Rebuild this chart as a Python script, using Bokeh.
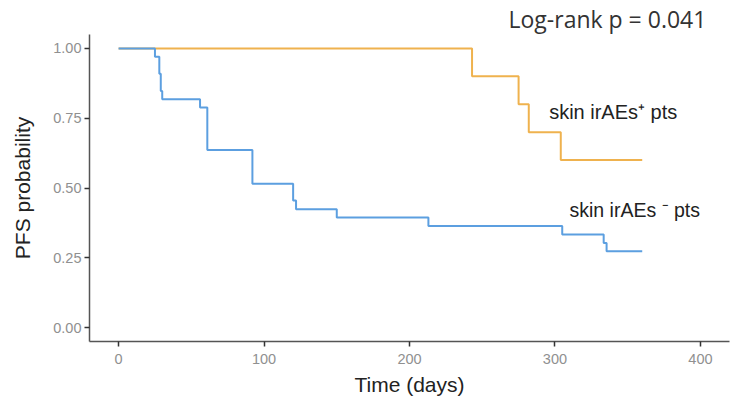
from bokeh.plotting import figure
from bokeh.models import Range1d, FixedTicker, Label, Title
from bokeh.embed import file_html
from bokeh.resources import INLINE

# Data
pos_time = [0, 243, 275, 282, 304, 360]
pos_surv = [1.0, 0.9, 0.8, 0.7, 0.6, 0.6]

neg_time = [0, 25, 28, 29, 30, 56, 61, 92, 120, 122, 150, 213, 305, 333.5, 335.5, 360]
neg_surv = [1.0, 0.970, 0.909, 0.848, 0.818, 0.788, 0.636, 0.515, 0.455, 0.424,
            0.394, 0.364, 0.333, 0.303, 0.273, 0.273]

x_ticks = [0, 100, 200, 300, 400]
y_ticks = [0.0, 0.25, 0.5, 0.75, 1.0]
y_tick_labels = ["0.00", "0.25", "0.50", "0.75", "1.00"]

pos_label = "skin irAEs\u207a pts"
neg_label = "skin irAEs \u207b pts"
p_text = "Log-rank p = 0.041"

orange = "#EFB24E"
blue = "#5C9FE0"

p = figure(width=745, height=400, output_backend="svg", toolbar_location=None,
           x_range=Range1d(-20, 420), y_range=Range1d(-0.05, 1.05),
           min_border_left=89, min_border_right=16, min_border_top=0, min_border_bottom=59)

p.step(pos_time, pos_surv, mode="after", line_color=orange, line_width=2)
p.step(neg_time, neg_surv, mode="after", line_color=blue, line_width=2)

p.grid.visible = False
p.outline_line_color = None
p.background_fill_color = "white"

for ax in (p.xaxis[0], p.yaxis[0]):
    ax.axis_line_color = "#555555"
    ax.axis_line_width = 1.5
    ax.major_tick_line_color = "#333333"
    ax.major_tick_line_width = 1.5
    ax.major_tick_out = 5
    ax.major_tick_in = 0
    ax.minor_tick_line_color = None
    ax.major_label_text_color = "#909090"
    ax.major_label_text_font = "Liberation Sans"
    ax.major_label_text_font_size = "14.5px"
    ax.axis_label_text_font = "Liberation Sans"
    ax.axis_label_text_font_size = "21px"
    ax.axis_label_text_font_style = "normal"
    ax.axis_label_text_color = "#222222"

p.xaxis[0].ticker = FixedTicker(ticks=x_ticks)
p.yaxis[0].ticker = FixedTicker(ticks=y_ticks)
p.yaxis[0].major_label_overrides = {t: l for t, l in zip(y_ticks, y_tick_labels)}
p.xaxis[0].axis_label = "Time (days)"
p.yaxis[0].axis_label = "PFS probability"
p.xaxis[0].major_label_standoff = 7
p.yaxis[0].major_label_standoff = 3
p.xaxis[0].axis_label_standoff = 6
p.yaxis[0].axis_label_standoff = 16

title = Title(text=p_text, align="left", offset=419, standoff=0,
              text_font="Open Sans", text_font_size="23px",
              text_font_style="normal", text_color="#333333")
p.add_layout(title, "above")

p.add_layout(Label(x=296, y=0.772, text=pos_label, text_font="Liberation Sans",
                   text_font_size="20px", text_color="#222222", text_baseline="middle"))
p.add_layout(Label(x=310, y=0.42, text=neg_label, text_font="Liberation Sans",
                   text_font_size="19.5px", text_color="#222222", text_baseline="middle"))

open("out.html", "w").write(file_html(p, INLINE))
